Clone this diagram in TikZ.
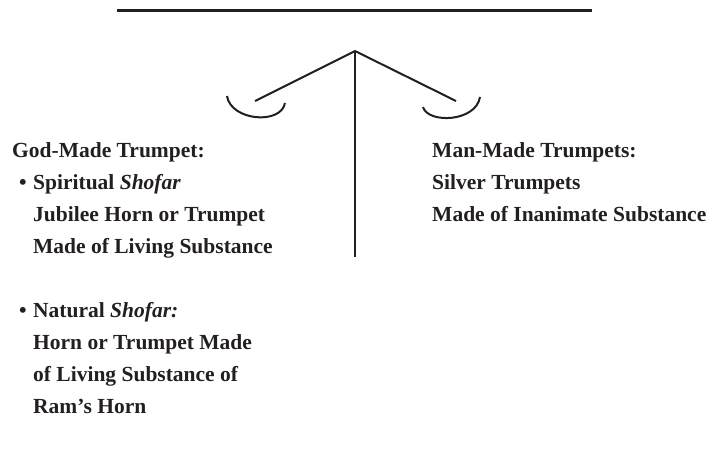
\documentclass[tikz,border=0pt]{standalone}
\usepackage{fontspec}
\setmainfont{Liberation Serif}
\usepackage{tikz}
\usetikzlibrary{positioning}
\definecolor{inkdark}{RGB}{35,31,32}
\tikzset{
  beam/.style={line width=2.6pt, color=inkdark},
  arm/.style={line width=2pt, color=inkdark},
  label/.style={anchor=base west, inner sep=0pt, align=left,
    font=\fontsize{21.5}{32}\selectfont\bfseries, text=inkdark}
}
\newcommand{\bul}{\llap{\textbullet\hspace{6.5pt}}}
\begin{document}
\begin{tikzpicture}[x=1pt, y=-1pt]
  \useasboundingbox (0,0) rectangle (709,456);
  % Balance frame
  \coordinate (beamL) at (117,10.5);
  \coordinate (beamR) at (592,10.5);
  \coordinate (apex) at (355,51);
  \coordinate (armL) at (255,101);
  \coordinate (armR) at (456,101);
  \coordinate (post) at (355,257);
  \draw[beam] (beamL) -- (beamR);
  \draw[arm] (armL) -- (apex) -- (armR);
  \draw[arm] (apex) -- (post);

  % Pans
  \draw[arm] (227,96) .. controls (231,121) and (281,125) .. (285,103);
  \draw[arm] (423,107) .. controls (428,124) and (476,122) .. (480,97);

  % Left side (base = last line)
  \node[label] (godmade) at (12,157) {God-Made Trumpet:};
  \node[label] (spiritual) at (33,253) {\bul Spiritual \textit{Shofar}\\
    Jubilee Horn or Trumpet\\ Made of Living Substance};
  \node[label] (natural) at (33,413) {\bul Natural \textit{Shofar:}\\
    Horn or Trumpet Made\\ of Living Substance of\\ Ram’s Horn};

  % Right side
  \node[label] (manmade) at (432,221) {Man-Made Trumpets:\\
    Silver Trumpets\\ Made of Inanimate Substance};
\end{tikzpicture}
\end{document}
